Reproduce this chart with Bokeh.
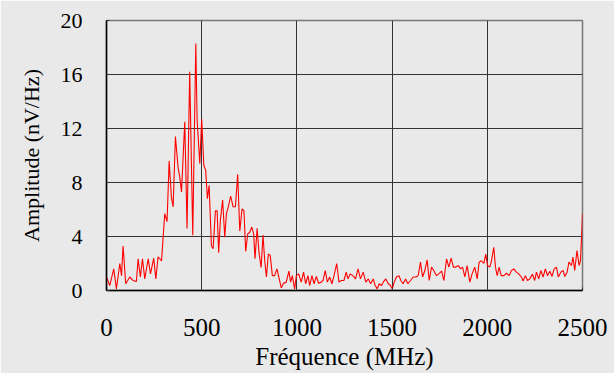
from bokeh.plotting import figure
from bokeh.models import Range1d, FixedTicker
from bokeh.embed import file_html
from bokeh.resources import INLINE

# Frequency (MHz) and amplitude (nV/Hz)
freq = [0, 17, 38, 52, 70, 79, 87, 101, 122, 140, 157, 166, 178, 189, 201, 219, 231, 248, 259, 271,
        289, 306, 318, 329, 341, 350, 362, 376, 385, 394, 411, 423, 437, 453, 469, 476, 490, 500, 511, 521,
        530, 539, 551, 560, 572, 581, 589, 598, 610, 621, 630, 640, 652, 665, 677, 689, 700, 712, 722, 731,
        742, 752, 763, 773, 780, 791, 801, 812, 822, 831, 840, 850, 860, 871, 883, 895, 906, 918, 930, 944,
        958, 967, 976, 988, 997, 1009, 1023, 1035, 1046, 1058, 1067, 1079, 1090, 1102, 1114, 1128, 1137, 1149, 1160, 1172,
        1184, 1195, 1209, 1221, 1233, 1247, 1259, 1268, 1280, 1294, 1308, 1321, 1334, 1348, 1362, 1375, 1387, 1401, 1411, 1422,
        1432, 1445, 1453, 1467, 1480, 1492, 1501, 1511, 1523, 1536, 1546, 1558, 1571, 1583, 1597, 1611, 1625, 1637, 1649, 1660,
        1672, 1684, 1695, 1707, 1719, 1733, 1745, 1760, 1772, 1786, 1798, 1810, 1822, 1835, 1847, 1859, 1870, 1882, 1894, 1908,
        1920, 1934, 1947, 1957, 1969, 1982, 1992, 2001, 2013, 2022, 2034, 2043, 2052, 2062, 2073, 2087, 2101, 2115, 2127, 2139,
        2153, 2165, 2179, 2188, 2200, 2211, 2223, 2237, 2249, 2258, 2270, 2281, 2293, 2305, 2316, 2328, 2340, 2351, 2363, 2373,
        2386, 2398, 2407, 2419, 2429, 2442, 2450, 2459, 2471, 2482, 2489, 2494, 2500]
amp = [0.99, 0.37, 1.6, 0.12, 2.0, 1.1, 3.3, 0.5, 1.0, 0.74, 0.67, 2.35, 1.0, 2.35, 0.86, 2.35, 1.23, 2.4, 0.86, 2.5,
       2.2, 5.7, 5.1, 9.6, 6.9, 6.2, 11.4, 9.1, 8.4, 7.3, 12.5, 4.6, 16.2, 4.1, 18.3, 12.6, 9.4, 12.7, 9.3, 8.9,
       6.8, 7.8, 3.3, 3.1, 5.9, 5.9, 2.8, 5.2, 6.7, 3.95, 5.7, 6.2, 7.0, 6.2, 6.2, 8.6, 4.4, 6.05, 5.9, 2.9,
       4.2, 4.3, 4.7, 4.2, 2.35, 4.6, 2.8, 1.7, 4.1, 2.2, 1.0, 2.7, 2.6, 1.1, 1.1, 1.6, 0.94, 0.2, 0.54, 0.62,
       1.43, 0.62, 1.1, 0.12, 1.1, 1.23, 0.62, 1.36, 0.5, 1.1, 0.37, 1.1, 0.5, 1.04, 0.54, 0.62, 0.74, 1.48, 0.62, 1.0,
       0.5, 1.1, 2.0, 0.62, 0.74, 0.74, 1.36, 0.86, 1.23, 1.1, 0.86, 1.6, 0.86, 1.36, 0.62, 0.86, 0.5, 0.86, 0.37, 0.12,
       0.5, 0.37, 0.62, 0.86, 0.5, 0.37, 0.12, 0.62, 1.0, 1.1, 0.74, 0.5, 0.86, 0.5, 0.74, 1.0, 1.0, 1.1, 2.1, 1.0,
       1.48, 2.27, 0.74, 1.73, 1.48, 1.1, 1.23, 1.43, 0.74, 2.35, 1.73, 2.4, 1.73, 1.73, 1.85, 1.6, 1.73, 1.0, 1.85, 0.62,
       1.23, 1.73, 0.86, 2.1, 2.2, 2.0, 2.7, 1.85, 1.73, 2.2, 3.2, 1.73, 1.1, 1.73, 1.1, 1.1, 1.28, 1.1, 1.48, 1.6,
       1.36, 1.23, 1.0, 0.7, 1.1, 0.74, 0.86, 1.2, 0.74, 1.36, 0.86, 1.48, 1.0, 1.6, 1.1, 1.43, 1.04, 1.6, 1.73, 1.0,
       1.36, 1.48, 1.04, 1.36, 2.1, 1.85, 2.47, 1.48, 2.96, 1.85, 2.2, 3.6, 5.7]

x_ticks = [0, 500, 1000, 1500, 2000, 2500]
y_ticks = [0, 4, 8, 12, 16, 20]
x_title = "Fréquence (MHz)"
y_title = "Amplitude (nV/Hz)"

BG = "#e9e9e9"
FONT = "Liberation Serif"

p = figure(width=614, height=373, output_backend="svg", toolbar_location=None,
           x_range=Range1d(0, 2500), y_range=Range1d(0, 20),
           min_border_left=106, min_border_right=32, min_border_top=20, min_border_bottom=83)
p.background_fill_color = BG
p.border_fill_color = BG
p.outline_line_color = "#777777"
p.outline_line_width = 1.5

p.line(freq, amp, line_color="red", line_width=1.1)

p.xaxis.ticker = FixedTicker(ticks=x_ticks)
p.yaxis.ticker = FixedTicker(ticks=y_ticks)
p.xgrid.ticker = FixedTicker(ticks=x_ticks)
p.ygrid.ticker = FixedTicker(ticks=y_ticks)
for g in (p.xgrid, p.ygrid):
    g.grid_line_color = "#333333"
    g.grid_line_width = 1
    g.grid_line_alpha = 1.0

for ax in (p.xaxis, p.yaxis):
    ax.axis_line_color = "black"
    ax.axis_line_width = 1.5
    ax.major_tick_in = 3
    ax.major_tick_out = 0
    ax.major_tick_line_color = "#333333"
    ax.minor_tick_line_color = None
    ax.major_label_text_font = FONT
    ax.major_label_text_color = "black"
    ax.axis_label_text_font = FONT
    ax.axis_label_text_font_style = "normal"
    ax.axis_label_text_color = "black"

p.xaxis.axis_label = x_title
p.yaxis.axis_label = y_title
p.xaxis.major_label_text_font_size = "25px"
p.yaxis.major_label_text_font_size = "22px"
p.xaxis.axis_label_text_font_size = "25px"
p.yaxis.axis_label_text_font_size = "22px"
p.xaxis.major_label_standoff = 28
p.yaxis.major_label_standoff = 24
p.xaxis.axis_label_standoff = 4
p.yaxis.axis_label_standoff = 14

open("out.html", "w").write(file_html(p, INLINE))
